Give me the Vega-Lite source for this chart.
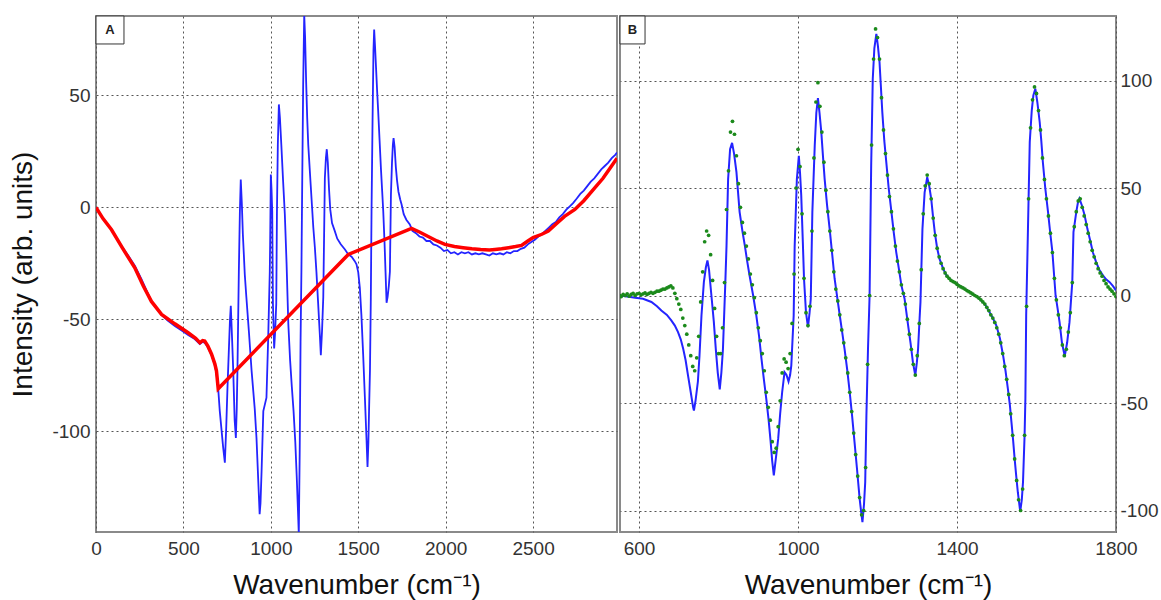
{
"$schema": "https://vega.github.io/schema/vega-lite/v6.json",
"padding": {"left": 8, "top": 14, "right": 0, "bottom": 0},
"spacing": 0,
"config": {
  "view": {"stroke": "#8a8a8a", "strokeWidth": 2},
  "font": "Liberation Sans",
  "axis": {"domain": false, "ticks": false, "grid": true, "gridColor": "#555555", "gridDash": [2, 3], "gridWidth": 1, "labelFont": "Liberation Sans", "labelFontSize": 19, "labelColor": "#333333", "labelFlush": false, "labelOverlap": false, "labelExpr": "toString(datum.value)", "titleFont": "Liberation Sans", "titleFontSize": 28, "titleFontWeight": "normal", "titleColor": "#111111"}
},
"datasets": {
  "blueA": [
{"x":0,"y":0},{"x":20,"y":-2.5},{"x":50,"y":-6},{"x":89,"y":-10},{"x":130,"y":-15.5},{"x":180,"y":-21},{"x":222,"y":-26},{"x":260,"y":-32},{"x":317,"y":-42},{"x":345,"y":-45},{"x":375,"y":-48},{"x":410,"y":-50.5},{"x":451,"y":-53},{"x":490,"y":-55},{"x":527,"y":-57},{"x":560,"y":-58.5},{"x":594,"y":-61},{"x":610,"y":-60},{"x":622,"y":-60.5},{"x":640,"y":-62.5},{"x":661,"y":-66},{"x":675,"y":-69},{"x":689,"y":-74},{"x":699,"y":-81},{"x":708,"y":-91},{"x":727,"y":-107},{"x":737,"y":-114},{"x":745,"y":-98},{"x":752,"y":-80.5},{"x":766,"y":-50.8},{"x":771,"y":-44},{"x":778,"y":-58},{"x":785,"y":-73},{"x":793,"y":-95},{"x":800,"y":-103},{"x":805,"y":-90},{"x":809,"y":-73},{"x":817,"y":-28.7},{"x":823,"y":-1.7},{"x":828,"y":12.5},{"x":834,"y":2},{"x":840,"y":-12},{"x":845,"y":-20},{"x":851,"y":-30},{"x":860,"y":-40},{"x":875,"y":-56},{"x":890,"y":-73},{"x":908,"y":-90},{"x":918,"y":-103},{"x":928,"y":-122},{"x":936,"y":-137},{"x":941,"y":-132},{"x":947,"y":-118},{"x":957,"y":-91},{"x":966,"y":-88},{"x":975,"y":-85},{"x":985,"y":-58},{"x":994,"y":-28.7},{"x":996,"y":-16.5},{"x":1000,"y":14.7},{"x":1004,"y":8},{"x":1008,"y":-1.7},{"x":1012,"y":-43},{"x":1019,"y":-63},{"x":1025,"y":-55},{"x":1031,"y":-43},{"x":1035,"y":-1.7},{"x":1040,"y":28},{"x":1046,"y":46},{"x":1052,"y":40},{"x":1060,"y":28},{"x":1070,"y":12},{"x":1080,"y":-3},{"x":1090,"y":-25},{"x":1100,"y":-52},{"x":1110,"y":-68},{"x":1120,"y":-80},{"x":1130,"y":-91},{"x":1140,"y":-105},{"x":1148,"y":-120},{"x":1155,"y":-135},{"x":1160,"y":-146},{"x":1165,"y":-110},{"x":1170,"y":-60},{"x":1175,"y":-28},{"x":1180,"y":15},{"x":1185,"y":55},{"x":1191,"y":86},{"x":1196,"y":76},{"x":1202,"y":56},{"x":1208,"y":40},{"x":1214,"y":28},{"x":1228,"y":10},{"x":1243,"y":-9},{"x":1252,"y":-18},{"x":1261,"y":-29},{"x":1270,"y":-42},{"x":1281,"y":-58},{"x":1286,"y":-66},{"x":1293,"y":-55},{"x":1300,"y":-40},{"x":1309,"y":13},{"x":1315,"y":22},{"x":1320,"y":26},{"x":1326,"y":20},{"x":1333,"y":8},{"x":1340,"y":-1},{"x":1350,"y":-7},{"x":1366,"y":-10.6},{"x":1380,"y":-14},{"x":1400,"y":-16.5},{"x":1424,"y":-18.8},{"x":1443,"y":-21},{"x":1462,"y":-22},{"x":1480,"y":-24},{"x":1490,"y":-25.4},{"x":1500,"y":-29},{"x":1509,"y":-35.9},{"x":1518,"y":-48},{"x":1528,"y":-65.6},{"x":1538,"y":-85},{"x":1547,"y":-103},{"x":1553,"y":-116},{"x":1558,"y":-105},{"x":1562,"y":-90},{"x":1567,"y":-73},{"x":1572,"y":-40},{"x":1576,"y":-1.7},{"x":1582,"y":40},{"x":1587,"y":70},{"x":1591,"y":79.5},{"x":1596,"y":72},{"x":1602,"y":62},{"x":1608,"y":52},{"x":1614,"y":43},{"x":1622,"y":30},{"x":1630,"y":17},{"x":1637,"y":7},{"x":1643,"y":-1.7},{"x":1650,"y":-15},{"x":1656,"y":-28.7},{"x":1662,"y":-42.6},{"x":1668,"y":-40},{"x":1675,"y":-35},{"x":1681,"y":-28.7},{"x":1687,"y":5.8},{"x":1693,"y":20},{"x":1698,"y":28},{"x":1702,"y":31},{"x":1708,"y":27},{"x":1715,"y":18},{"x":1722,"y":12},{"x":1730,"y":7},{"x":1740,"y":3.5},{"x":1748,"y":1.3},{"x":1760,"y":-3},{"x":1775,"y":-5.5},{"x":1795,"y":-7.6},{"x":1810,"y":-10.5},{"x":1830,"y":-11.5},{"x":1850,"y":-13},{"x":1870,"y":-13.5},{"x":1890,"y":-15},{"x":1910,"y":-15},{"x":1930,"y":-16.5},{"x":1950,"y":-17},{"x":1970,"y":-18},{"x":1990,"y":-19.5},{"x":2010,"y":-19},{"x":2030,"y":-20.5},{"x":2050,"y":-20},{"x":2070,"y":-21},{"x":2090,"y":-20},{"x":2110,"y":-20.5},{"x":2130,"y":-20},{"x":2150,"y":-21},{"x":2170,"y":-20.5},{"x":2190,"y":-21},{"x":2210,"y":-20.5},{"x":2230,"y":-21},{"x":2250,"y":-21.5},{"x":2270,"y":-20.5},{"x":2290,"y":-21},{"x":2310,"y":-20.5},{"x":2330,"y":-21},{"x":2350,"y":-20},{"x":2370,"y":-20.5},{"x":2390,"y":-19.5},{"x":2410,"y":-19.5},{"x":2430,"y":-18.5},{"x":2450,"y":-18},{"x":2470,"y":-16.5},{"x":2490,"y":-15.5},{"x":2510,"y":-14.5},{"x":2530,"y":-13},{"x":2550,"y":-12},{"x":2570,"y":-10.5},{"x":2590,"y":-9},{"x":2610,"y":-7.5},{"x":2630,"y":-6.5},{"x":2650,"y":-4.5},{"x":2670,"y":-3},{"x":2690,"y":-1},{"x":2710,"y":0.5},{"x":2730,"y":2},{"x":2750,"y":4},{"x":2770,"y":6},{"x":2790,"y":7.5},{"x":2810,"y":9.5},{"x":2830,"y":11.5},{"x":2850,"y":13},{"x":2870,"y":15},{"x":2890,"y":17},{"x":2910,"y":18.5},{"x":2930,"y":20},{"x":2950,"y":22},{"x":2970,"y":23.5},{"x":2980,"y":24.5}
  ],
  "redA": [
{"x":0,"y":0},{"x":40,"y":-5},{"x":89,"y":-10},{"x":150,"y":-18},{"x":222,"y":-27},{"x":270,"y":-35},{"x":317,"y":-42},{"x":375,"y":-47.8},{"x":451,"y":-52},{"x":527,"y":-56},{"x":570,"y":-58.5},{"x":594,"y":-60.4},{"x":610,"y":-59.5},{"x":622,"y":-59.7},{"x":640,"y":-62},{"x":661,"y":-65.6},{"x":680,"y":-70},{"x":689,"y":-73},{"x":699,"y":-81},{"x":1443,"y":-21},{"x":1805,"y":-9.4},{"x":1850,"y":-11},{"x":1900,"y":-13},{"x":1950,"y":-15},{"x":1996,"y":-16.5},{"x":2050,"y":-17.5},{"x":2100,"y":-18},{"x":2150,"y":-18.5},{"x":2200,"y":-18.8},{"x":2250,"y":-19},{"x":2282,"y":-18.8},{"x":2320,"y":-18.5},{"x":2360,"y":-18},{"x":2400,"y":-17.5},{"x":2434,"y":-17},{"x":2470,"y":-15},{"x":2500,"y":-13.5},{"x":2550,"y":-12},{"x":2587,"y":-10.6},{"x":2630,"y":-7.5},{"x":2680,"y":-4},{"x":2739,"y":-0.9},{"x":2790,"y":3},{"x":2854,"y":8.8},{"x":2900,"y":13},{"x":2940,"y":17.5},{"x":2980,"y":22}
  ],
  "blueB": [
{"x":552,"y":0},{"x":570,"y":-0.5},{"x":590,"y":-1},{"x":610,"y":-1.5},{"x":631,"y":-3},{"x":645,"y":-5},{"x":656,"y":-7},{"x":670,"y":-9},{"x":681,"y":-11.6},{"x":690,"y":-14},{"x":698,"y":-17},{"x":705,"y":-20.5},{"x":711,"y":-24.8},{"x":717,"y":-30},{"x":723,"y":-37},{"x":730,"y":-45},{"x":736,"y":-52},{"x":738,"y":-53.5},{"x":742,"y":-49},{"x":748,"y":-40},{"x":752,"y":-28},{"x":757,"y":-9.3},{"x":763,"y":6.2},{"x":768,"y":13},{"x":772,"y":16.3},{"x":776,"y":12},{"x":782,"y":0},{"x":788,"y":-12},{"x":793,"y":-24.8},{"x":798,"y":-36},{"x":803,"y":-43.7},{"x":807,"y":-36},{"x":811,"y":-25},{"x":817,"y":6},{"x":820,"y":23},{"x":824,"y":54},{"x":829,"y":68},{"x":834,"y":71},{"x":839,"y":66},{"x":845,"y":57.4},{"x":853,"y":38.8},{"x":860,"y":30},{"x":866,"y":23.3},{"x":872,"y":16},{"x":878,"y":9.3},{"x":887,"y":0},{"x":895,"y":-9.3},{"x":902,"y":-19},{"x":908,"y":-29.5},{"x":914,"y":-39},{"x":920,"y":-48},{"x":926,"y":-58},{"x":931,"y":-68},{"x":935,"y":-77},{"x":939,"y":-83.7},{"x":944,"y":-76},{"x":950,"y":-66.7},{"x":955,"y":-55},{"x":960,"y":-45},{"x":966,"y":-35.7},{"x":971,"y":-37},{"x":976,"y":-40},{"x":980,"y":-37},{"x":983,"y":-32.6},{"x":989,"y":-9.3},{"x":991.5,"y":23},{"x":997,"y":54},{"x":1002,"y":65},{"x":1005,"y":57},{"x":1008,"y":46.6},{"x":1012,"y":25},{"x":1015,"y":7.8},{"x":1020,"y":-8},{"x":1025,"y":-14.7},{"x":1029,"y":-8},{"x":1032,"y":-1.6},{"x":1036,"y":38.8},{"x":1042,"y":69.8},{"x":1046,"y":85},{"x":1050,"y":91.8},{"x":1054,"y":85},{"x":1058.5,"y":76},{"x":1063,"y":64},{"x":1067,"y":54},{"x":1073,"y":42},{"x":1079.5,"y":31},{"x":1086,"y":19},{"x":1092,"y":7.8},{"x":1099,"y":-1.5},{"x":1105,"y":-9.3},{"x":1111,"y":-17},{"x":1117,"y":-24.8},{"x":1124,"y":-35},{"x":1130,"y":-45},{"x":1136,"y":-56},{"x":1142,"y":-68},{"x":1148,"y":-80},{"x":1155,"y":-94.6},{"x":1159,"y":-101},{"x":1162,"y":-105.4},{"x":1166,"y":-97},{"x":1169,"y":-86.8},{"x":1172,"y":-55.8},{"x":1176,"y":-24.8},{"x":1180,"y":0},{"x":1184,"y":60.5},{"x":1188,"y":100.8},{"x":1192,"y":115},{"x":1197,"y":121.7},{"x":1201,"y":116},{"x":1205,"y":108.5},{"x":1212,"y":85.3},{"x":1217,"y":72},{"x":1222,"y":62},{"x":1228,"y":50},{"x":1235,"y":38.8},{"x":1241,"y":29},{"x":1247,"y":20.2},{"x":1254,"y":12},{"x":1260,"y":4.7},{"x":1268,"y":-1.5},{"x":1272,"y":-7},{"x":1277,"y":-14},{"x":1283,"y":-22},{"x":1289,"y":-31},{"x":1295,"y":-37.2},{"x":1299,"y":-31},{"x":1302,"y":-24.8},{"x":1306,"y":-10},{"x":1308,"y":-3.1},{"x":1313,"y":31},{"x":1318.5,"y":48},{"x":1325,"y":55},{"x":1330,"y":51},{"x":1335,"y":45},{"x":1340,"y":36},{"x":1344,"y":29.5},{"x":1350,"y":22},{"x":1356,"y":17},{"x":1365,"y":12.5},{"x":1373,"y":9.4},{"x":1385,"y":7},{"x":1398,"y":5.5},{"x":1415,"y":3.5},{"x":1432,"y":1.6},{"x":1445,"y":0},{"x":1457,"y":-1.6},{"x":1470,"y":-4},{"x":1482,"y":-7.8},{"x":1490,"y":-10.5},{"x":1499,"y":-14},{"x":1508,"y":-20},{"x":1516,"y":-28},{"x":1522,"y":-35},{"x":1528,"y":-43.4},{"x":1533,"y":-51},{"x":1537,"y":-59},{"x":1541,"y":-67},{"x":1545,"y":-76},{"x":1549,"y":-84},{"x":1553,"y":-91.5},{"x":1556,"y":-96},{"x":1559,"y":-100.5},{"x":1563,"y":-95},{"x":1566,"y":-86.8},{"x":1570,"y":-65},{"x":1572,"y":-48},{"x":1574,"y":-9.3},{"x":1578.5,"y":31},{"x":1583,"y":71.4},{"x":1588,"y":86},{"x":1592,"y":93},{"x":1597,"y":96.2},{"x":1602,"y":90},{"x":1608,"y":80.7},{"x":1612,"y":72},{"x":1616,"y":62},{"x":1622,"y":50},{"x":1629,"y":38.8},{"x":1634,"y":30},{"x":1640,"y":20.2},{"x":1644,"y":10},{"x":1648,"y":0},{"x":1653,"y":-6},{"x":1658,"y":-12.4},{"x":1664,"y":-22},{"x":1671,"y":-28.2},{"x":1677,"y":-22},{"x":1683,"y":-12.4},{"x":1690,"y":6.2},{"x":1693,"y":29.5},{"x":1700,"y":38.8},{"x":1704,"y":43},{"x":1708,"y":45},{"x":1714,"y":42},{"x":1721,"y":37.3},{"x":1728,"y":31},{"x":1734,"y":26.4},{"x":1742,"y":20},{"x":1750,"y":15.5},{"x":1758,"y":12},{"x":1767,"y":9.4},{"x":1775,"y":7.5},{"x":1784,"y":6.2},{"x":1792,"y":4.5},{"x":1800,"y":2.4}
  ],
  "greenB": [
{"x":552,"y":0},{"x":555,"y":-0.5},{"x":560,"y":0.5},{"x":565,"y":0},{"x":570,"y":0.8},{"x":575,"y":-0.3},{"x":580,"y":0.5},{"x":585,"y":1},{"x":590,"y":0},{"x":595,"y":0.8},{"x":600,"y":1},{"x":605,"y":0.3},{"x":610,"y":0.8},{"x":615,"y":1.2},{"x":620,"y":0.5},{"x":625,"y":1},{"x":630,"y":1.5},{"x":635,"y":1},{"x":640,"y":1.5},{"x":645,"y":2},{"x":650,"y":2},{"x":655,"y":2.5},{"x":660,"y":3},{"x":665,"y":3},{"x":670,"y":3.5},{"x":675,"y":4},{"x":680,"y":4.5},{"x":685,"y":3.5},{"x":690,"y":1},{"x":695,"y":-1.5},{"x":700,"y":-4},{"x":705,"y":-6.5},{"x":710,"y":-10.5},{"x":715,"y":-14},{"x":720,"y":-18},{"x":725,"y":-23},{"x":730,"y":-28},{"x":735,"y":-33},{"x":740,"y":-35},{"x":745,"y":-29},{"x":750,"y":-19},{"x":755,"y":-3},{"x":760,"y":11},{"x":765,"y":25},{"x":770,"y":30},{"x":775,"y":28},{"x":780,"y":19},{"x":785,"y":7},{"x":790,"y":-6},{"x":795,"y":-19},{"x":800,"y":-27},{"x":805,"y":-27},{"x":810,"y":-15},{"x":815,"y":6},{"x":820,"y":40},{"x":825,"y":58},{"x":830,"y":76},{"x":835,"y":81},{"x":840,"y":75},{"x":845,"y":65},{"x":850,"y":52},{"x":855,"y":41},{"x":860,"y":34},{"x":865,"y":29},{"x":870,"y":23},{"x":875,"y":17},{"x":880,"y":10},{"x":885,"y":5},{"x":890,"y":-1},{"x":895,"y":-8},{"x":900,"y":-15},{"x":905,"y":-21},{"x":910,"y":-27},{"x":915,"y":-35},{"x":920,"y":-45},{"x":925,"y":-52},{"x":930,"y":-58},{"x":935,"y":-68},{"x":940,"y":-73},{"x":945,"y":-71},{"x":950,"y":-61},{"x":955,"y":-49},{"x":960,"y":-36},{"x":965,"y":-29.5},{"x":970,"y":-31},{"x":975,"y":-34},{"x":980,"y":-27},{"x":985,"y":-13},{"x":990,"y":10},{"x":995,"y":50},{"x":1000,"y":68},{"x":1005,"y":60},{"x":1010,"y":38},{"x":1015,"y":8},{"x":1020,"y":-8},{"x":1025,"y":-14},{"x":1030,"y":-5},{"x":1035,"y":30},{"x":1040,"y":64},{"x":1045,"y":90},{"x":1050,"y":99},{"x":1055,"y":88},{"x":1060,"y":76},{"x":1065,"y":62},{"x":1070,"y":49},{"x":1075,"y":39},{"x":1080,"y":30},{"x":1085,"y":21},{"x":1090,"y":11},{"x":1095,"y":3},{"x":1100,"y":-2.5},{"x":1105,"y":-9},{"x":1110,"y":-16},{"x":1115,"y":-22},{"x":1120,"y":-29},{"x":1125,"y":-36},{"x":1130,"y":-45},{"x":1135,"y":-54},{"x":1140,"y":-64},{"x":1145,"y":-74},{"x":1150,"y":-84},{"x":1155,"y":-94},{"x":1160,"y":-102},{"x":1165,"y":-100},{"x":1170,"y":-80},{"x":1175,"y":-32},{"x":1180,"y":0},{"x":1185,"y":70},{"x":1190,"y":110},{"x":1195,"y":124},{"x":1200,"y":120},{"x":1205,"y":110},{"x":1210,"y":92},{"x":1215,"y":77},{"x":1220,"y":66},{"x":1225,"y":56},{"x":1230,"y":46},{"x":1235,"y":39},{"x":1240,"y":31},{"x":1245,"y":23},{"x":1250,"y":16},{"x":1255,"y":11},{"x":1260,"y":5},{"x":1265,"y":1},{"x":1270,"y":-4},{"x":1275,"y":-11},{"x":1280,"y":-18},{"x":1285,"y":-25},{"x":1290,"y":-32},{"x":1295,"y":-37},{"x":1300,"y":-28},{"x":1305,"y":-13},{"x":1310,"y":12},{"x":1315,"y":38},{"x":1320,"y":51},{"x":1325,"y":56},{"x":1330,"y":52},{"x":1335,"y":45},{"x":1340,"y":36},{"x":1345,"y":28},{"x":1350,"y":22},{"x":1355,"y":18},{"x":1360,"y":15},{"x":1365,"y":12.5},{"x":1370,"y":10.5},{"x":1375,"y":9},{"x":1380,"y":8},{"x":1385,"y":7},{"x":1390,"y":6.5},{"x":1395,"y":6},{"x":1400,"y":5.2},{"x":1405,"y":4.5},{"x":1410,"y":4},{"x":1415,"y":3.5},{"x":1420,"y":3},{"x":1425,"y":2.3},{"x":1430,"y":1.8},{"x":1435,"y":1.2},{"x":1440,"y":0.6},{"x":1445,"y":0},{"x":1450,"y":-0.5},{"x":1455,"y":-1.2},{"x":1460,"y":-2},{"x":1465,"y":-3},{"x":1470,"y":-4},{"x":1475,"y":-5.5},{"x":1480,"y":-7},{"x":1485,"y":-9},{"x":1490,"y":-10.5},{"x":1495,"y":-12.5},{"x":1500,"y":-15},{"x":1505,"y":-18},{"x":1510,"y":-22},{"x":1515,"y":-27},{"x":1520,"y":-33},{"x":1525,"y":-39},{"x":1530,"y":-46},{"x":1535,"y":-55},{"x":1540,"y":-65},{"x":1545,"y":-76},{"x":1550,"y":-86},{"x":1555,"y":-95},{"x":1560,"y":-100},{"x":1565,"y":-90},{"x":1570,"y":-65},{"x":1575,"y":-5},{"x":1580,"y":45},{"x":1585,"y":78},{"x":1590,"y":91},{"x":1595,"y":97},{"x":1600,"y":94},{"x":1605,"y":86},{"x":1610,"y":77},{"x":1615,"y":64},{"x":1620,"y":54},{"x":1625,"y":45},{"x":1630,"y":37},{"x":1635,"y":29},{"x":1640,"y":20},{"x":1645,"y":8},{"x":1650,"y":-2},{"x":1655,"y":-9},{"x":1660,"y":-15},{"x":1665,"y":-23},{"x":1670,"y":-28},{"x":1675,"y":-25},{"x":1680,"y":-17},{"x":1685,"y":-8},{"x":1690,"y":6},{"x":1695,"y":32},{"x":1700,"y":39},{"x":1705,"y":44},{"x":1710,"y":45},{"x":1715,"y":41},{"x":1720,"y":37},{"x":1725,"y":33},{"x":1730,"y":29},{"x":1735,"y":25},{"x":1740,"y":21},{"x":1745,"y":18},{"x":1750,"y":15},{"x":1755,"y":12.5},{"x":1760,"y":10.5},{"x":1765,"y":9},{"x":1770,"y":7},{"x":1775,"y":5.5},{"x":1780,"y":4},{"x":1785,"y":3},{"x":1790,"y":2},{"x":1795,"y":0.8},{"x":1800,"y":-0.5}
  ]
},
"hconcat": [
  {
    "width": 521,
    "height": 516,
    "layer": [
      {
        "data": {"name": "blueA"},
        "mark": {"type": "line", "color": "#2424ff", "strokeWidth": 1.8, "clip": true},
        "encoding": {
          "x": {"field": "x", "type": "quantitative", "scale": {"domain": [0, 2980], "nice": false, "zero": false},
                "axis": {"values": [0, 500, 1000, 1500, 2000, 2500], "title": "Wavenumber (cm⁻¹)", "labelPadding": 7, "titlePadding": 13}},
          "y": {"field": "y", "type": "quantitative", "scale": {"domain": [-145, 85.5], "nice": false, "zero": false},
                "axis": {"values": [-100, -50, 0, 50], "title": "Intensity (arb. units)", "labelPadding": 6, "titlePadding": 14}}
        }
      },
      {
        "data": {"name": "redA"},
        "mark": {"type": "line", "color": "#ff0000", "strokeWidth": 3.5, "clip": true},
        "encoding": {
          "x": {"field": "x", "type": "quantitative"},
          "y": {"field": "y", "type": "quantitative"}
        }
      },
      {
        "data": {"values": [{"x": 0, "x2": 160, "y": 85.5, "y2": 73}]},
        "mark": {"type": "rect", "fill": "white", "stroke": "#333333", "strokeWidth": 1},
        "encoding": {
          "x": {"field": "x", "type": "quantitative"},
          "x2": {"field": "x2"},
          "y": {"field": "y", "type": "quantitative"},
          "y2": {"field": "y2"}
        }
      },
      {
        "data": {"values": [{"x": 80, "y": 79.2, "t": "A"}]},
        "mark": {"type": "text", "fontWeight": "bold", "fontSize": 13, "color": "#222222", "align": "center", "baseline": "middle"},
        "encoding": {
          "x": {"field": "x", "type": "quantitative"},
          "y": {"field": "y", "type": "quantitative"},
          "text": {"field": "t"}
        }
      }
    ]
  },
  {
    "width": 496,
    "height": 516,
    "layer": [
      {
        "data": {"name": "blueB"},
        "mark": {"type": "line", "color": "#2424ff", "strokeWidth": 2, "clip": true},
        "encoding": {
          "x": {"field": "x", "type": "quantitative", "scale": {"domain": [552, 1800], "nice": false, "zero": false},
                "axis": {"values": [600, 1000, 1400, 1800], "title": "Wavenumber (cm⁻¹)", "labelPadding": 7, "titlePadding": 13}},
          "y": {"field": "y", "type": "quantitative", "scale": {"domain": [-110, 130], "nice": false, "zero": false},
                "axis": {"orient": "right", "values": [-100, -50, 0, 50, 100], "title": null, "labelPadding": 4}}
        }
      },
      {
        "data": {"name": "greenB"},
        "mark": {"type": "point", "filled": true, "shape": "circle", "size": 14, "color": "#1b8a1b", "opacity": 1, "clip": true},
        "encoding": {
          "x": {"field": "x", "type": "quantitative"},
          "y": {"field": "y", "type": "quantitative"}
        }
      },
      {
        "data": {"values": [{"x": 552, "x2": 615, "y": 130, "y2": 117}]},
        "mark": {"type": "rect", "fill": "white", "stroke": "#333333", "strokeWidth": 1},
        "encoding": {
          "x": {"field": "x", "type": "quantitative"},
          "x2": {"field": "x2"},
          "y": {"field": "y", "type": "quantitative"},
          "y2": {"field": "y2"}
        }
      },
      {
        "data": {"values": [{"x": 583.5, "y": 123.5, "t": "B"}]},
        "mark": {"type": "text", "fontWeight": "bold", "fontSize": 13, "color": "#222222", "align": "center", "baseline": "middle"},
        "encoding": {
          "x": {"field": "x", "type": "quantitative"},
          "y": {"field": "y", "type": "quantitative"},
          "text": {"field": "t"}
        }
      }
    ]
  }
]
}
